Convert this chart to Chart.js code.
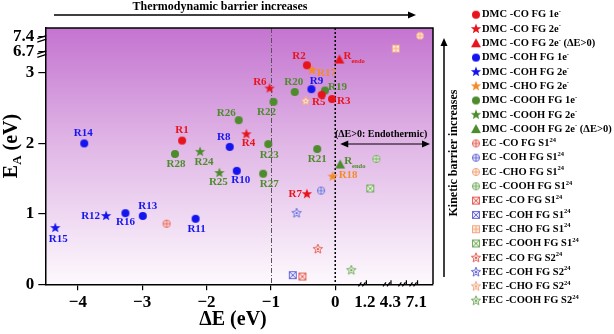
<!DOCTYPE html>
<html>
<head>
<meta charset="utf-8">
<script src="https://cdn.jsdelivr.net/npm/chart.js@4.4.1/dist/chart.umd.min.js"></script>
<style>
  html, body { margin: 0; padding: 0; background: #fff; }
</style>
</head>
<body>
<canvas id="chart" width="614" height="334"></canvas>
<script>
// ---- data (ΔE in eV, EA in eV) ----
const coDmc1eDE = [-2.38, -0.44, -0.05, -0.21];
const coDmc1eEA = [2.04, 3.11, 2.63, 2.69];
const coDmc1eIds = ['R1', 'R2', 'R3', 'R5'];

const coDmc2eDE = [-1.38, -1.02, -0.44];
const coDmc2eEA = [2.13, 2.78, 1.28];
const coDmc2eIds = ['R4', 'R6', 'R7'];

const coDmcEndoDE = [0.17];
const coDmcEndoEA = [3.19];
const coDmcEndoIds = ['Rendo'];

const cohDmc1eDE = [-1.64, -0.37, -1.53, -2.17, -2.99, -3.90, -3.26];
const cohDmc1eEA = [1.95, 2.77, 1.61, 0.93, 0.97, 2.00, 1.01];
const cohDmc1eIds = ['R8', 'R9', 'R10', 'R11', 'R13', 'R14', 'R16'];

const cohDmc2eDE = [-3.56, -4.35];
const cohDmc2eEA = [0.97, 0.80];
const cohDmc2eIds = ['R12', 'R15'];

const choDmc2eDE = [-0.36, -0.04];
const choDmc2eEA = [3.04, 1.53];
const choDmc2eIds = ['R17', 'R18'];

const coohDmc1eDE = [-0.16, -0.63, -0.28, -0.96, -1.04, -1.50, -1.12, -2.49];
const coohDmc1eEA = [2.75, 2.73, 1.92, 2.59, 1.99, 2.33, 1.57, 1.85];
const coohDmc1eIds = ['R19', 'R20', 'R21', 'R22', 'R23', 'R26', 'R27', 'R28'];

const coohDmc2eDE = [-2.10, -1.80];
const coohDmc2eEA = [1.88, 1.58];
const coohDmc2eIds = ['R24', 'R25'];

const coohDmcEndoDE = [0.2];
const coohDmcEndoEA = [1.70];
const coohDmcEndoIds = ['Rendo'];

const ecCoDE = [-2.62],   ecCoEA = [0.86];
const ecCohDE = [-0.22],  ecCohEA = [1.33];
const ecChoDE = [7.3],    ecChoEA = [7.44];
const ecCoohDE = [2.6],   ecCoohEA = [1.78];

const fecS1CoDE = [-0.51],  fecS1CoEA = [0.11];
const fecS1CohDE = [-0.66], fecS1CohEA = [0.13];
const fecS1ChoDE = [4.9],   fecS1ChoEA = [6.85];
const fecS1CoohDE = [1.86], fecS1CoohEA = [1.36];

const fecS2CoDE = [-0.27],  fecS2CoEA = [0.50];
const fecS2CohDE = [-0.60], fecS2CohEA = [1.01];
const fecS2ChoDE = [-0.46], fecS2ChoEA = [2.60];
const fecS2CoohDE = [0.65], fecS2CoohEA = [0.20];

const xTicks = [-4, -3, -2, -1, 0, 1.2, 4.3, 7.1];
const yTicks = [0, 1, 2, 3, 6.7, 7.4];

// ---- broken axes: value -> drawn position ----
const BREAKS = {
  x: [[-4.505, -4.505], [0, 0], [1.2, 0.46], [4.3, 0.855], [7.1, 1.26], [8, 1.519]],
  y: [[0, 0], [3.25, 3.25], [6.7, 3.30], [7.4, 3.515], [7.8, 3.638]]
};
const TICKS = { x: xTicks, y: yTicks };

class BrokenScale extends Chart.LinearScale {
  toDisplay(v) {
    const b = BREAKS[this.axis];
    let i = 0;
    while (i < b.length - 2 && v > b[i + 1][0]) i++;
    const [v0, d0] = b[i], [v1, d1] = b[i + 1];
    return d0 + (v - v0) * (d1 - d0) / (v1 - v0);
  }
  buildTicks() {
    this._start = this.min;
    this._end = this.max;
    return TICKS[this.axis].map(v => ({ value: v }));
  }
  getPixelForValue(v) {
    return super.getPixelForValue(v == null ? v : this.toDisplay(v));
  }
}
BrokenScale.id = 'broken';
BrokenScale.defaults = {};
Chart.register(BrokenScale);

// ---- markers ----
function makeMarker(size, paint) {
  const c = document.createElement('canvas');
  c.width = c.height = size;
  const g = c.getContext('2d');
  g.translate(size / 2, size / 2);
  paint(g);
  return c;
}
function starPath(g, R, r) {
  g.beginPath();
  for (let i = 0; i < 10; i++) {
    const a = -Math.PI / 2 + i * Math.PI / 5;
    const d = i % 2 ? r : R;
    g.lineTo(Math.cos(a) * d, Math.sin(a) * d);
  }
  g.closePath();
}
const dot = c => makeMarker(10, g => {
  g.fillStyle = c; g.beginPath(); g.arc(0, 0, 4, 0, Math.PI * 2); g.fill();
});
const star = c => makeMarker(12, g => { g.fillStyle = c; starPath(g, 5.4, 2.3); g.fill(); });
const tri = c => makeMarker(12, g => {
  g.fillStyle = c; g.beginPath(); g.moveTo(0, -5); g.lineTo(5, 4); g.lineTo(-5, 4); g.closePath(); g.fill();
});
const ringPlus = (c, f) => makeMarker(10, g => {
  g.fillStyle = f; g.strokeStyle = c; g.lineWidth = 1;
  g.beginPath(); g.arc(0, 0, 3.6, 0, Math.PI * 2); g.fill(); g.stroke();
  g.beginPath(); g.moveTo(-3.6, 0); g.lineTo(3.6, 0); g.moveTo(0, -3.6); g.lineTo(0, 3.6); g.stroke();
});
const boxX = (c, f) => makeMarker(10, g => {
  g.fillStyle = f; g.strokeStyle = c; g.lineWidth = 1;
  g.fillRect(-3.5, -3.5, 7, 7); g.strokeRect(-3.5, -3.5, 7, 7);
  g.beginPath(); g.moveTo(-3.5, -3.5); g.lineTo(3.5, 3.5); g.moveTo(3.5, -3.5); g.lineTo(-3.5, 3.5); g.stroke();
});
const boxPlus = (c, f) => makeMarker(10, g => {
  g.fillStyle = f; g.strokeStyle = c; g.lineWidth = 1;
  g.fillRect(-3.5, -3.5, 7, 7); g.strokeRect(-3.5, -3.5, 7, 7);
  g.beginPath(); g.moveTo(-3.5, 0); g.lineTo(3.5, 0); g.moveTo(0, -3.5); g.lineTo(0, 3.5); g.stroke();
});
const openStar = (c, f) => makeMarker(12, g => {
  g.fillStyle = f; g.strokeStyle = c; g.lineWidth = 1;
  starPath(g, 5, 2.2); g.fill(); g.stroke();
  g.fillStyle = c; g.fillRect(-1, -1, 2, 2);
});

const RED = '#e8141c', BLUE = '#1414ee', ORANGE = '#f28c28', GREEN = '#4c8c2c';
const LRED = '#e5635a', LBLUE = '#6b6bd8', LORANGE = '#f2a883', LGREEN = '#78ad64';

const series = [
  ['DMC -CO FG 1e^-^', coDmc1eDE, coDmc1eEA, coDmc1eIds, dot(RED), RED],
  ['DMC -CO FG 2e^-^', coDmc2eDE, coDmc2eEA, coDmc2eIds, star(RED), RED],
  ['DMC -CO FG 2e^-^ (ΔE>0)', coDmcEndoDE, coDmcEndoEA, coDmcEndoIds, tri(RED), RED],
  ['DMC -COH FG 1e^-^', cohDmc1eDE, cohDmc1eEA, cohDmc1eIds, dot(BLUE), BLUE],
  ['DMC -COH FG 2e^-^', cohDmc2eDE, cohDmc2eEA, cohDmc2eIds, star(BLUE), BLUE],
  ['DMC -CHO FG 2e^-^', choDmc2eDE, choDmc2eEA, choDmc2eIds, star(ORANGE), ORANGE],
  ['DMC -COOH FG 1e^-^', coohDmc1eDE, coohDmc1eEA, coohDmc1eIds, dot(GREEN), GREEN],
  ['DMC -COOH FG 2e^-^', coohDmc2eDE, coohDmc2eEA, coohDmc2eIds, star(GREEN), GREEN],
  ['DMC -COOH FG 2e^-^ (ΔE>0)', coohDmcEndoDE, coohDmcEndoEA, coohDmcEndoIds, tri(GREEN), GREEN],
  ['EC -CO FG S1^24^', ecCoDE, ecCoEA, [], ringPlus(LRED, '#fde6e3'), LRED],
  ['EC -COH FG S1^24^', ecCohDE, ecCohEA, [], ringPlus(LBLUE, '#e9e9fb'), LBLUE],
  ['EC -CHO FG S1^24^', ecChoDE, ecChoEA, [], ringPlus(LORANGE, '#fdece2'), LORANGE],
  ['EC -COOH FG S1^24^', ecCoohDE, ecCoohEA, [], ringPlus(LGREEN, '#e8f3e2'), LGREEN],
  ['FEC -CO FG S1^24^', fecS1CoDE, fecS1CoEA, [], boxX(LRED, '#fde6e3'), LRED],
  ['FEC -COH FG S1^24^', fecS1CohDE, fecS1CohEA, [], boxX(LBLUE, '#e9e9fb'), LBLUE],
  ['FEC -CHO FG S1^24^', fecS1ChoDE, fecS1ChoEA, [], boxPlus(LORANGE, '#fdece2'), LORANGE],
  ['FEC -COOH FG S1^24^', fecS1CoohDE, fecS1CoohEA, [], boxX(LGREEN, '#e8f3e2'), LGREEN],
  ['FEC -CO FG S2^24^', fecS2CoDE, fecS2CoEA, [], openStar(LRED, '#fde6e3'), LRED],
  ['FEC -COH FG S2^24^', fecS2CohDE, fecS2CohEA, [], openStar(LBLUE, '#e9e9fb'), LBLUE],
  ['FEC -CHO FG S2^24^', fecS2ChoDE, fecS2ChoEA, [], openStar(LORANGE, '#fdece2'), LORANGE],
  ['FEC -COOH FG S2^24^', fecS2CoohDE, fecS2CoohEA, [], openStar(LGREEN, '#e8f3e2'), LGREEN]
];

// label anchor relative to its point: [dx, dy, align]
const labelPlacement = {
  R1: [0, -10, 'center'], R2: [-8, -9, 'center'], R3: [5, 2, 'left'], R5: [-3, 7, 'center'],
  R4: [2, 9, 'center'], R6: [-3, -6, 'right'], R7: [-5, 0, 'right'],
  R8: [-6, -10, 'center'], R9: [5, -8, 'center'], R10: [4, 9, 'center'], R11: [1, 10, 'center'],
  R12: [-6, 0, 'right'], R13: [5, -10, 'center'], R14: [-1, -10, 'center'], R15: [3, 11, 'center'],
  R16: [0, 9, 'center'], R17: [5, 3, 'left'], R18: [6, -1, 'left'],
  R19: [3, -3, 'left'], R20: [-1, -10, 'center'], R21: [0, 10, 'center'], R22: [-7, 10, 'center'],
  R23: [1, 11, 'center'], R24: [4, 10, 'center'], R25: [-1, 9, 'center'], R26: [-3, -7, 'right'],
  R27: [6, 10, 'center'], R28: [1, 10, 'center'], Rendo: [4, -3, 'left']
};

const SERIF = '"Liberation Serif", "Times New Roman", serif';

function drawRich(ctx, text, x, y, size) {
  let cx = x;
  text.split('^').forEach((p, i) => {
    const sup = i % 2 === 1;
    ctx.font = `bold ${sup ? size * 0.62 : size}px ${SERIF}`;
    ctx.fillText(p, cx, sup ? y - size * 0.33 : y);
    cx += ctx.measureText(p).width;
  });
}

function arrowHead(ctx, x, y, dir) {
  // dir: 'right' | 'left' | 'up'
  ctx.beginPath();
  if (dir === 'right') { ctx.moveTo(x, y); ctx.lineTo(x - 8, y - 3.5); ctx.lineTo(x - 8, y + 3.5); }
  if (dir === 'left') { ctx.moveTo(x, y); ctx.lineTo(x + 8, y - 3.5); ctx.lineTo(x + 8, y + 3.5); }
  if (dir === 'up') { ctx.moveTo(x, y); ctx.lineTo(x - 3.5, y + 8); ctx.lineTo(x + 3.5, y + 8); }
  ctx.closePath();
  ctx.fill();
}

const background = {
  id: 'background',
  beforeDraw(chart) {
    const { ctx, chartArea: a } = chart;
    const grad = ctx.createLinearGradient(0, a.top, 0, a.bottom);
    grad.addColorStop(0, '#c474d0');
    grad.addColorStop(0.45, '#e0b6e6');
    grad.addColorStop(1, '#fdf9fd');
    ctx.save();
    ctx.fillStyle = grad;
    ctx.fillRect(a.left, a.top, a.right - a.left, a.bottom - a.top);
    ctx.restore();
  },
  beforeDatasetsDraw(chart) {
    const { ctx, chartArea: a, scales: { x } } = chart;
    ctx.save();
    ctx.strokeStyle = '#555';
    ctx.lineWidth = 1;
    ctx.setLineDash([5, 2, 1, 2]);
    const xm1 = Math.round(x.getPixelForValue(-1)) + 0.5;
    ctx.beginPath(); ctx.moveTo(xm1, a.top); ctx.lineTo(xm1, a.bottom); ctx.stroke();
    ctx.strokeStyle = '#000';
    ctx.lineWidth = 1.5;
    ctx.setLineDash([2, 2]);
    const x0 = x.getPixelForValue(0);
    ctx.beginPath(); ctx.moveTo(x0, a.top); ctx.lineTo(x0, a.bottom); ctx.stroke();
    ctx.restore();
  }
};

const decorations = {
  id: 'decorations',
  afterDatasetsDraw(chart) {
    const { ctx } = chart;
    ctx.save();
    ctx.textBaseline = 'middle';
    chart.data.datasets.forEach((ds, di) => {
      const meta = chart.getDatasetMeta(di);
      ds.ids.forEach((id, i) => {
        const pt = meta.data[i];
        const [dx, dy, align] = labelPlacement[id];
        ctx.fillStyle = ds.labelColor;
        ctx.textAlign = align;
        ctx.font = `bold 11px ${SERIF}`;
        if (id === 'Rendo') {
          ctx.textAlign = 'left';
          ctx.fillText('R', pt.x + dx, pt.y + dy);
          const w = ctx.measureText('R').width;
          ctx.font = `bold 6.5px ${SERIF}`;
          ctx.fillText('endo', pt.x + dx + w, pt.y + dy + 5);
        } else {
          ctx.fillText(id, pt.x + dx, pt.y + dy);
        }
      });
    });
    ctx.restore();
  },
  afterDraw(chart) {
    const { ctx, chartArea: a, scales: { x, y } } = chart;
    ctx.save();
    ctx.strokeStyle = '#000';
    ctx.fillStyle = '#000';
    ctx.lineWidth = 1.5;
    // frame top and right
    ctx.beginPath();
    ctx.moveTo(a.left, a.top); ctx.lineTo(a.right, a.top); ctx.lineTo(a.right, a.bottom);
    ctx.stroke();

    // axis break marks
    ctx.lineWidth = 1.2;
    [6.7, 7.4].forEach(v => {
      const py = y.getPixelForValue(v);
      ctx.beginPath();
      ctx.moveTo(a.left - 8, py + 2); ctx.lineTo(a.left + 1, py - 1);
      ctx.moveTo(a.left - 8, py + 5.5); ctx.lineTo(a.left + 1, py + 2.5);
      ctx.stroke();
    });
    [1.1, 3.9, 5.6, 6.8].forEach(v => {
      const px = x.getPixelForValue(v);
      ctx.beginPath();
      ctx.moveTo(px - 4, a.bottom + 2); ctx.lineTo(px - 1, a.bottom - 2);
      ctx.moveTo(px, a.bottom + 2); ctx.lineTo(px + 3, a.bottom - 2);
      ctx.moveTo(px + 4, a.bottom); ctx.lineTo(px + 4, a.bottom - 4);
      ctx.stroke();
    });

    // axis titles
    ctx.textBaseline = 'middle';
    ctx.textAlign = 'center';
    ctx.font = `bold 20px ${SERIF}`;
    ctx.fillText('ΔE (eV)', 233, 320);

    ctx.save();
    ctx.translate(12, 146);
    ctx.rotate(-Math.PI / 2);
    ctx.textAlign = 'left';
    ctx.font = `bold 20px ${SERIF}`;
    const wE = ctx.measureText('E').width;
    const wRest = ctx.measureText(' (eV)').width;
    ctx.font = `bold 13px ${SERIF}`;
    const wA = ctx.measureText('A').width;
    let sx = -(wE + wA + wRest) / 2;
    ctx.font = `bold 20px ${SERIF}`;
    ctx.fillText('E', sx, 0);
    ctx.font = `bold 13px ${SERIF}`;
    ctx.fillText('A', sx + wE, 6);
    ctx.font = `bold 20px ${SERIF}`;
    ctx.fillText(' (eV)', sx + wE + wA, 0);
    ctx.restore();

    // thermodynamic arrow
    ctx.font = `bold 12px ${SERIF}`;
    ctx.textAlign = 'center';
    ctx.fillText('Thermodynamic barrier increases', 220, 6.5);
    ctx.lineWidth = 1.5;
    ctx.beginPath(); ctx.moveTo(54, 15); ctx.lineTo(410, 15); ctx.stroke();
    arrowHead(ctx, 416, 15, 'right');

    // kinetic arrow
    ctx.beginPath(); ctx.moveTo(444, 277); ctx.lineTo(444, 44); ctx.stroke();
    arrowHead(ctx, 444, 38, 'up');
    ctx.save();
    ctx.translate(454, 153);
    ctx.rotate(-Math.PI / 2);
    ctx.fillText('Kinetic barrier increases', 0, 0);
    ctx.restore();

    // endothermic region
    const x0 = x.getPixelForValue(0) + 5;
    const x1 = a.right - 3;
    ctx.font = `bold 10px ${SERIF}`;
    ctx.fillText('(ΔE>0: Endothermic)', (x0 + x1) / 2 - 4, 134);
    ctx.lineWidth = 1.2;
    ctx.beginPath(); ctx.moveTo(x0 + 4, 144); ctx.lineTo(x1 - 4, 144); ctx.stroke();
    arrowHead(ctx, x0, 144, 'left');
    arrowHead(ctx, x1, 144, 'right');

    // legend
    ctx.textAlign = 'left';
    chart.data.datasets.forEach((ds, i) => {
      const ly = 14.7 + i * 14.3;
      ctx.drawImage(ds.pointStyle, 476 - ds.pointStyle.width / 2, ly - ds.pointStyle.height / 2);
      ctx.fillStyle = '#000';
      drawRich(ctx, ds.label, 482, ly, 10.5);
    });
    ctx.restore();
  }
};

const tickFont = { family: SERIF, size: 17, weight: 'bold' };

new Chart(document.getElementById('chart').getContext('2d'), {
  type: 'scatter',
  data: {
    datasets: series.map(([label, xs, ys, ids, mark, color]) => ({
      label,
      data: xs.map((v, i) => ({ x: v, y: ys[i] })),
      ids,
      labelColor: color,
      pointStyle: mark,
      pointRadius: 5,
      showLine: false
    }))
  },
  options: {
    responsive: false,
    animation: false,
    events: [],
    layout: { padding: { left: 0, top: 28, right: 181, bottom: 0 } },
    plugins: { legend: { display: false }, tooltip: { enabled: false } },
    scales: {
      x: {
        type: 'broken',
        min: -4.505,
        max: 1.519,
        afterFit: s => { s.height = 49.7; },
        border: { color: '#000', width: 1.5 },
        grid: {
          drawOnChartArea: false,
          tickLength: 6,
          lineWidth: 1.2,
          color: c => (c.tick && c.tick.value > 0 ? 'rgba(0,0,0,0)' : '#000')
        },
        ticks: {
          color: '#000', font: tickFont, padding: 2, autoSkip: false, maxRotation: 0,
          callback: v => String(v).replace('-', '\u2212')
        }
      },
      y: {
        type: 'broken',
        min: 0,
        max: 3.638,
        afterFit: s => { s.width = 45.3; },
        border: { color: '#000', width: 1.5 },
        grid: { drawOnChartArea: false, tickLength: 7, lineWidth: 1.2, color: '#000' },
        ticks: { color: '#000', font: tickFont, padding: 4, autoSkip: false, callback: v => String(v) }
      }
    }
  },
  plugins: [background, decorations]
});
</script>
</body>
</html>
